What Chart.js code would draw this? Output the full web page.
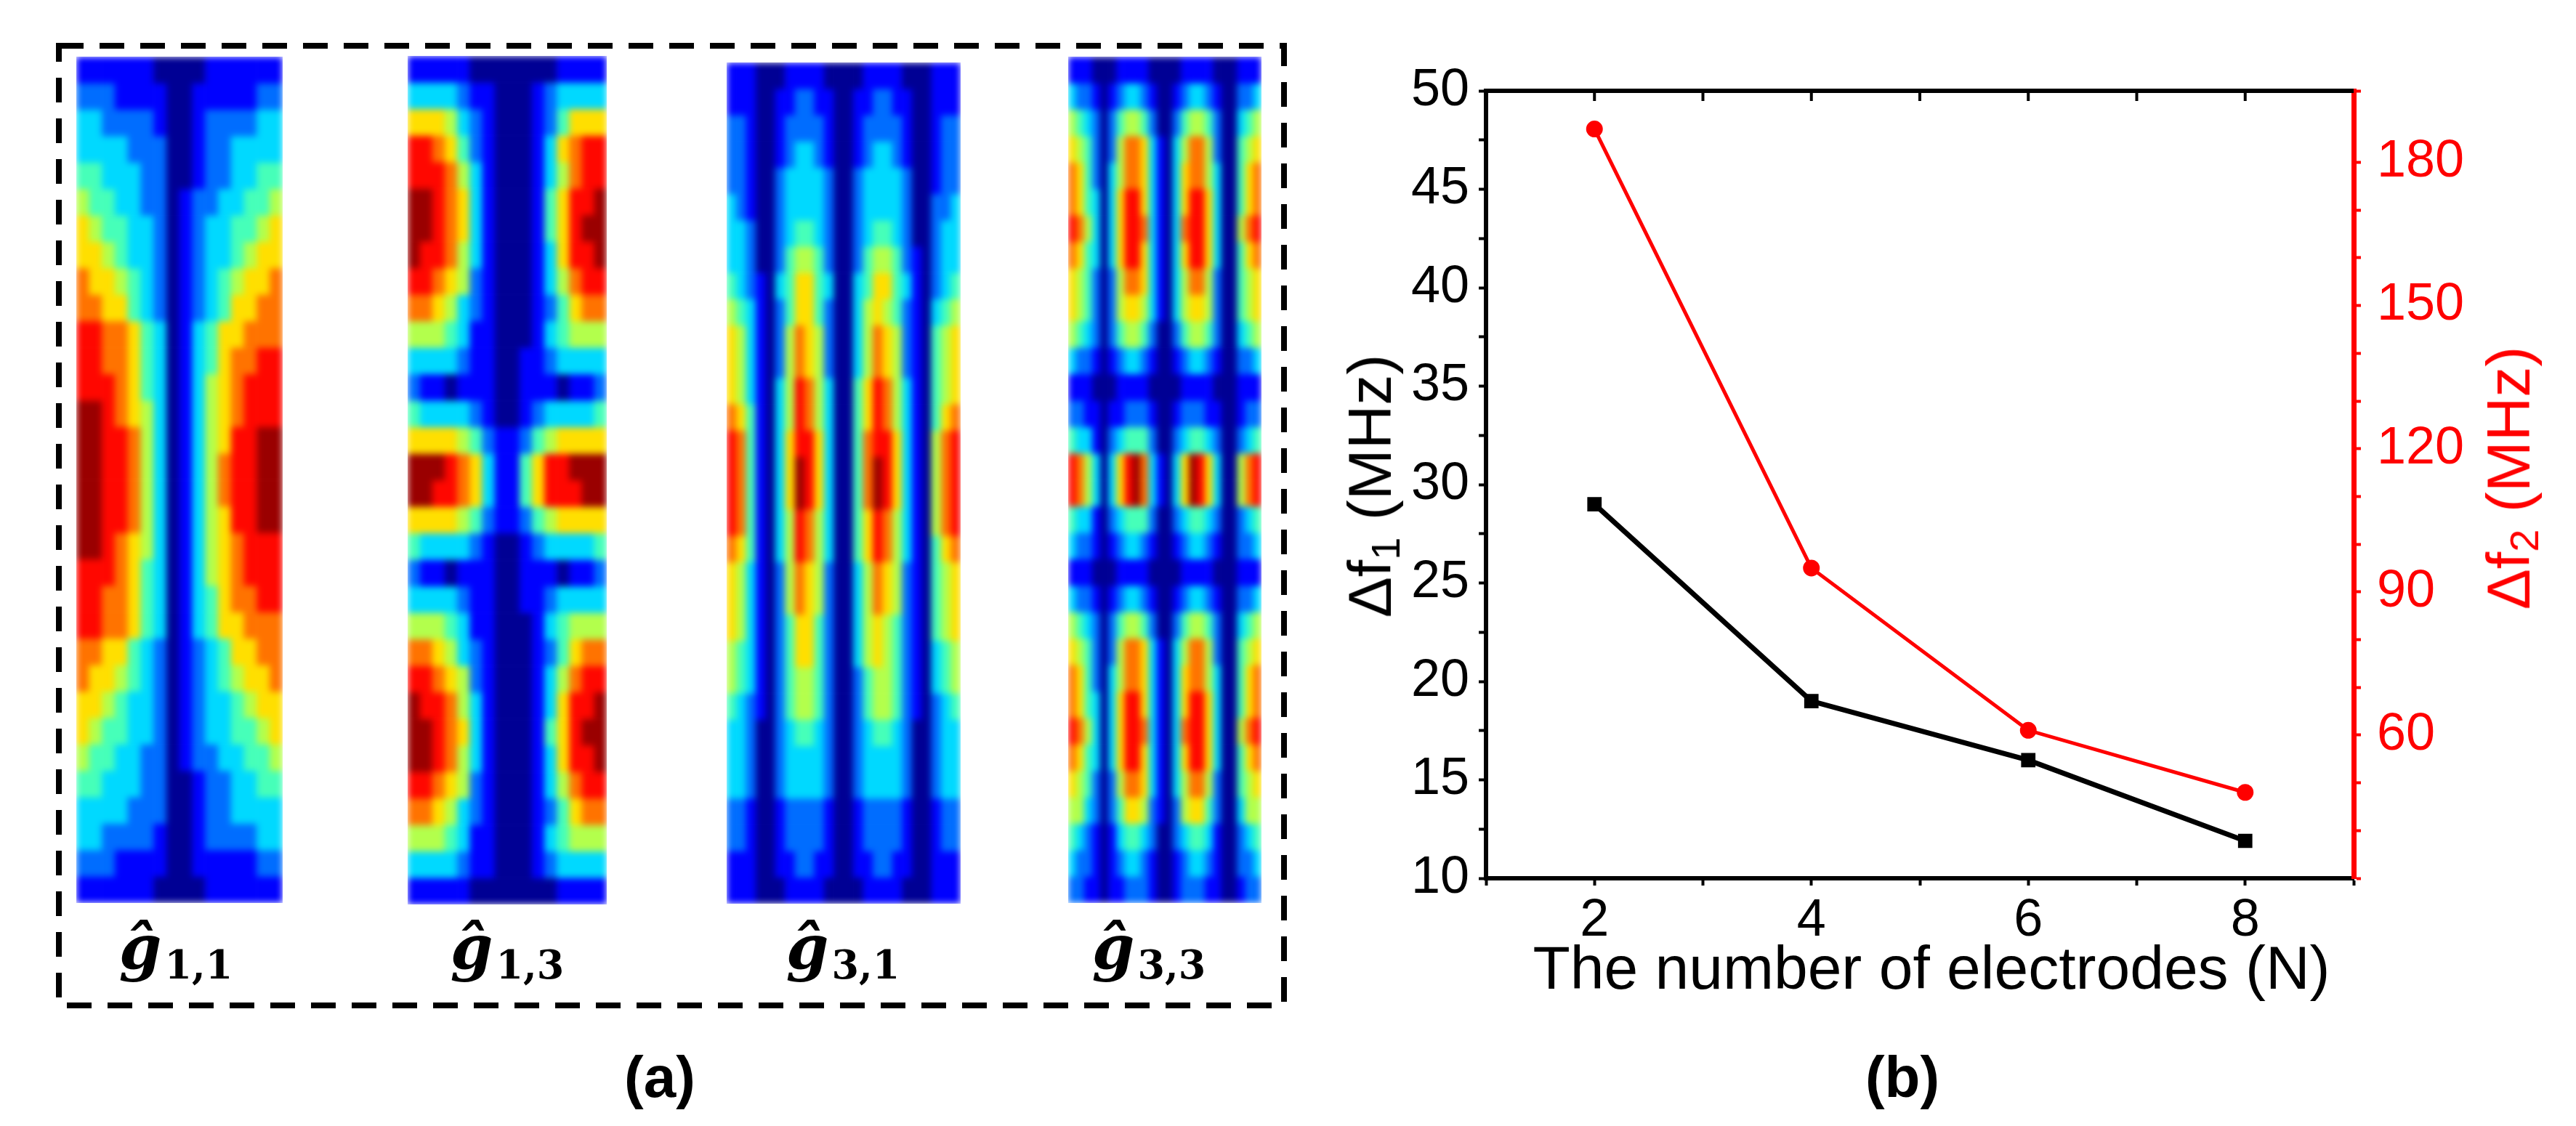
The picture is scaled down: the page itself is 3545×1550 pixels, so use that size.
<!DOCTYPE html>
<html>
<head>
<meta charset="utf-8">
<title>Mode shapes and frequency spacing</title>
<script src="https://cdn.jsdelivr.net/npm/chart.js@4.4.1/dist/chart.umd.min.js"></script>
<style>
  html, body { margin: 0; padding: 0; background: #fff; }
  #page { position: relative; width: 3545px; height: 1550px; overflow: hidden; }
  canvas, .txt, svg, .map { position: absolute; }
  .map { overflow: hidden; }
  .map canvas { left: 0; top: 0; filter: blur(5px); }
  .txt { white-space: nowrap; line-height: 1; font-family: "Liberation Sans", Arial, sans-serif; color: #000; }
  .glab { font-family: "DejaVu Serif", serif; font-weight: bold; font-size: 84px; top: 1262px; transform: translateX(-50%); }
  .glab i { font-style: italic; }
  .glab span { font-size: 54px; position: relative; top: 14px; margin-left: 4px; }
  .panel { font-weight: bold; font-size: 80px; top: 1443px; transform: translateX(-50%); }
  .axt { font-size: 84px; }
  .axt sub { font-size: 56px; vertical-align: -12px; line-height: 0; }
  .rot { transform: translate(-50%, -50%) rotate(-90deg); }
</style>
</head>
<body>
<div id="page">
  <svg width="3545" height="1550" style="left:0;top:0">
    <rect x="81" y="63" width="1686" height="1321" fill="none" stroke="#000" stroke-width="8" stroke-dasharray="34 22"/>
  </svg>
  <div class="map" style="left:105px;top:78px;width:284px;height:1165px"><canvas id="g11" width="284" height="1165"></canvas></div>
  <div class="map" style="left:561px;top:77px;width:274px;height:1168px"><canvas id="g13" width="274" height="1168"></canvas></div>
  <div class="map" style="left:1000px;top:86px;width:322px;height:1158px"><canvas id="g31" width="322" height="1158"></canvas></div>
  <div class="map" style="left:1470px;top:78px;width:266px;height:1165px"><canvas id="g33" width="266" height="1165"></canvas></div>
  <canvas id="spacing" width="1745" height="1550" style="left:1800px;top:0"></canvas>

  <div class="txt glab" style="left:242px"><i>ĝ</i><span>1,1</span></div>
  <div class="txt glab" style="left:698px"><i>ĝ</i><span>1,3</span></div>
  <div class="txt glab" style="left:1160px"><i>ĝ</i><span>3,1</span></div>
  <div class="txt glab" style="left:1581px"><i>ĝ</i><span>3,3</span></div>
  <div class="txt panel" style="left:908px">(a)</div>
  <div class="txt panel" style="left:2618px">(b)</div>
  <div class="txt axt" style="left:2658px;top:1290px;transform:translateX(-50%)">The number of electrodes (N)</div>
  <div class="txt axt rot" style="left:1885px;top:669px">Δf<sub>1</sub> (MHz)</div>
  <div class="txt axt rot" style="left:3452px;top:658px;color:#ff0000">Δf<sub>2</sub> (MHz)</div>
</div>

<script>
// field maps: one string per row, one digit (0-9) per cell
const g11Rows = [
  "1111110000111111", "2221111001111122", "3322221001222233", "3333222001223333",
  "4433322001223344", "5443322012233445", "6544332012334456", "6654332012334566",
  "7665432012345667", "7766432012346677", "8877643013466777", "8877643013467788",
  "8887643013567888", "9987653013567888", "9988753013568899", "9988753013578899",
  "9988753013578899", "9988753013568899", "9987653013567888", "8887643013567888",
  "8877643013467788", "8877643013466777", "7766432012346677", "7665432012345667",
  "6654332012334566", "6544332012334456", "5443322012233445", "4433322001223344",
  "3333222001223333", "3322221001222233", "2221111001111122", "1111110000111111",
];

const g13Rows = [
  "1111100000001111", "3333211000123333", "6665321000124666", "8876421000136788",
  "8887531000135788", "9987631000146889", "9987631000146899", "9887531000136889",
  "8876521000135788", "7765321000124677", "5554311000134555", "3333211001123333",
  "2110111001110112", "4333321001233334", "6666542112456666", "9998763114688999",
  "9988763114688899", "6666542112456666", "4333321001233334", "2110111001110112",
  "3333211001123333", "5554311000134555", "7765321000124677", "8876521000135788",
  "9887531000136889", "9987631000146899", "9987531000136889", "8876521000135788",
  "7765321000124677", "5554311000134555", "3333211000123333", "1111100000001111",
];

const g31Rows = [
  "111000111100001111000111", "111001122110011221100111",
  "221001222210012222100122", "221001233210012332100122",
  "221002333320023333200122", "321002333320023333200223",
  "332002344320023443200233", "332002455420024554210233",
  "432103466430034664310234", "543102466420035654210345",
  "653102576520035765210456", "653102576520035765210456",
  "653103587530046875310456", "764103587530046875310467",
  "874103688630047886310578", "874103698630047986310578",
  "874103698630047986310578", "874103587530046875310578",
  "764103587530046875310467", "653102576520035765210456",
  "653102576520035765210456", "653102466420035654210456",
  "543102466420035654210345", "543102455420024554210345",
  "432102455420024554210234", "332002344320023443200233",
  "332002333320023333200233", "332002333320023333200233",
  "221001222210012222100122", "221001222210012222100122",
  "111001122110011221100111", "111000111100001111000111",
];

const g33Rows = [
  "111000111100001111000111", "322101233210012332100223",
  "543202455420024554200345", "654202577631035775200456",
  "764203577631036775300467", "764303688631036886300467",
  "875303688731037886300578", "764303688631036886300467",
  "654202577631035775200456", "654202566531035665200456",
  "543202455420024554200345", "322101233210012332100223",
  "111000111100001111000111", "221101122210012221100122",
  "433102344420023443200234", "875303689731036986300578",
  "875303689731036986300578", "433102344420023443200234",
  "322101233210012332100223", "111000111100001111000111",
  "322101233210012332100223", "543202455420024554200345",
  "654202577631035775200456", "764203577631036775300467",
  "764303688631036886300467", "875303688731037886300578",
  "764303688631036886300467", "654202577631035775200456",
  "553202466521025664200355", "432101344320023443100234",
  "322101233210012332100223", "221101122210012221100122",
];

// panel (b)
const electrodes = [2, 4, 6, 8];
const deltaF1 = [29, 19, 16, 11.9];
const deltaF2 = [187, 95, 61, 48];
const xLabels = [2, 4, 6, 8];
const leftLabels = [10, 15, 20, 25, 30, 35, 40, 45, 50];
const rightLabels = [60, 90, 120, 150, 180];

Chart.defaults.font.family = "'Liberation Sans', Arial, sans-serif";

function jet(level) {
  const v = 0.02 + level * 0.106;
  const c = (x) => Math.round(255 * Math.max(0, Math.min(1, x)));
  const r = c(1.5 - Math.abs(4 * v - 3));
  const g = c(1.5 - Math.abs(4 * v - 2));
  const b = c(1.5 - Math.abs(4 * v - 1));
  return `rgb(${r},${g},${b})`;
}

function drawField(id, rows) {
  const cols = rows[0].split("").map((_, c) => c);
  const datasets = rows.map((row, r) => ({
    data: cols.map(() => [r, r + 1]),
    backgroundColor: row.split("").map((d) => jet(Number(d))),
    borderWidth: 0,
    grouped: false,
    barPercentage: 1,
    categoryPercentage: 1,
  }));

  new Chart(document.getElementById(id), {
    type: "bar",
    data: { labels: cols, datasets },
    options: {
      responsive: false,
      animation: false,
      events: [],
      layout: { padding: 0 },
      plugins: { legend: { display: false }, tooltip: { enabled: false } },
      scales: {
        x: { display: false },
        y: { display: false, min: 0, max: rows.length, reverse: true },
      },
    },
  });
}

drawField("g11", g11Rows);
drawField("g13", g13Rows);
drawField("g31", g31Rows);
drawField("g33", g33Rows);

// top frame line with inward ticks, like the Origin box
const topFrame = {
  id: "topFrame",
  afterDraw(chart) {
    const { ctx, chartArea, scales } = chart;
    ctx.save();
    ctx.strokeStyle = "#000";
    ctx.lineWidth = 6;
    ctx.beginPath();
    ctx.moveTo(chartArea.left - 3, chartArea.top);
    ctx.lineTo(chartArea.right, chartArea.top);
    ctx.stroke();
    ctx.lineWidth = 4;
    ctx.beginPath();
    scales.x.ticks.forEach((t) => {
      if (t.value <= scales.x.min || t.value >= scales.x.max) return;
      const px = scales.x.getPixelForValue(t.value);
      ctx.moveTo(px, chartArea.top);
      ctx.lineTo(px, chartArea.top + 14);
    });
    ctx.stroke();
    ctx.restore();
  },
};

const tickFont = { size: 72 };

new Chart(document.getElementById("spacing"), {
  type: "line",
  data: {
    datasets: [
      {
        label: "Δf1",
        data: electrodes.map((n, i) => ({ x: n, y: deltaF1[i] })),
        borderColor: "#000",
        backgroundColor: "#000",
        borderWidth: 7,
        pointStyle: "rect",
        pointRadius: 9,
        tension: 0,
        yAxisID: "y",
      },
      {
        label: "Δf2",
        data: electrodes.map((n, i) => ({ x: n, y: deltaF2[i] })),
        borderColor: "#ff0000",
        backgroundColor: "#ff0000",
        borderWidth: 5,
        pointStyle: "circle",
        pointRadius: 9,
        tension: 0,
        yAxisID: "y2",
      },
    ],
  },
  options: {
    responsive: false,
    animation: false,
    events: [],
    layout: { padding: { top: 125, left: 0, right: 0, bottom: 0 } },
    plugins: { legend: { display: false }, tooltip: { enabled: false } },
    scales: {
      x: {
        type: "linear",
        position: "bottom",
        min: 1,
        max: 9,
        afterFit: (scale) => { scale.height = 341; },
        border: { color: "#000", width: 6 },
        grid: { drawOnChartArea: false, tickLength: 10, tickWidth: 4, tickColor: "#000" },
        ticks: {
          stepSize: 1,
          autoSkip: false,
          maxRotation: 0,
          padding: 6,
          color: "#000",
          font: tickFont,
          callback: (v) => (xLabels.includes(v) ? v : ""),
        },
      },
      y: {
        position: "left",
        min: 10,
        max: 50,
        afterFit: (scale) => { scale.width = 245; },
        border: { color: "#000", width: 6 },
        grid: { drawOnChartArea: false, tickLength: 10, tickWidth: 4, tickColor: "#000" },
        ticks: {
          stepSize: 2.5,
          autoSkip: false,
          padding: 13,
          color: "#000",
          font: tickFont,
          callback: (v) => (leftLabels.includes(v) ? v : ""),
        },
      },
      y2: {
        position: "right",
        min: 30,
        max: 195,
        afterFit: (scale) => { scale.width = 306; },
        border: { color: "#ff0000", width: 7 },
        grid: { drawOnChartArea: false, tickLength: 10, tickWidth: 4, tickColor: "#ff0000" },
        ticks: {
          stepSize: 10,
          autoSkip: false,
          padding: 22,
          color: "#ff0000",
          font: tickFont,
          callback: (v) => (rightLabels.includes(v) ? v : ""),
        },
      },
    },
  },
  plugins: [topFrame],
});
</script>
</body>
</html>
